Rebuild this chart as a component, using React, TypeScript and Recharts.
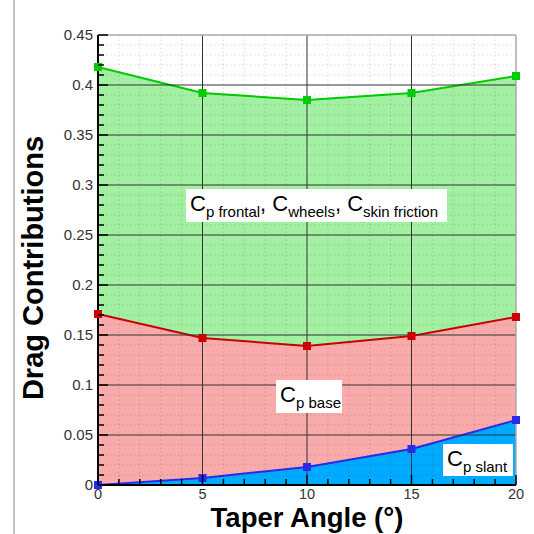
import React from 'react';
import { ComposedChart, Area, XAxis, YAxis, ReferenceLine, ReferenceDot } from 'recharts';

const angles = [0, 5, 10, 15, 20];
const frontalWheelsSkin = [0.418, 0.392, 0.385, 0.392, 0.409];
const baseDrag = [0.171, 0.147, 0.139, 0.149, 0.168];
const slantDrag = [0, 0.007, 0.018, 0.036, 0.065];

const majorYTicks = [0, 0.05, 0.1, 0.15, 0.2, 0.25, 0.3, 0.35, 0.4, 0.45];
const majorXTicks = [0, 5, 10, 15, 20];
const allYTicks = Array.from({ length: 46 }, (_, i) => +(i * 0.01).toFixed(2));
const allXTicks = Array.from({ length: 21 }, (_, i) => i);
const minorYLines = allYTicks.filter((v) => Math.round(v * 100) % 5 !== 0);
const minorXLines = allXTicks.filter((v) => v % 5 !== 0);
const innerMajorY = majorYTicks.slice(1, -1);
const innerMajorX = majorXTicks.slice(1, -1);

const data = angles.map((a, i) => ({
  angle: a,
  total: frontalWheelsSkin[i],
  base: baseDrag[i],
  slant: slantDrag[i],
}));

const FONT = '"Liberation Sans", Arial, Helvetica, sans-serif';

const fmt = (v: number) => String(+v.toFixed(2));

const YTick = (props: any) => {
  const { x, y, payload } = props;
  const v = payload.value as number;
  const major = Math.round(v * 100) % 5 === 0;
  return (
    <g>
      <line x1={x} x2={x + (major ? 10 : 6)} y1={y} y2={y} stroke="#000" strokeWidth={1.5} />
      {major && (
        <text x={x - 5} y={y + 5} textAnchor="end" fontSize={15} fill="#333" fontFamily={FONT}>
          {fmt(v)}
        </text>
      )}
    </g>
  );
};

const XTick = (props: any) => {
  const { x, y, payload } = props;
  const v = payload.value as number;
  const major = v % 5 === 0;
  return (
    <g>
      <line x1={x} x2={x} y1={y} y2={y - (major ? 10 : 6)} stroke="#000" strokeWidth={1.5} />
      {major && (
        <text x={x} y={y + 14} textAnchor="middle" fontSize={14.5} fill="#333" fontFamily={FONT}>
          {fmt(v)}
        </text>
      )}
    </g>
  );
};

const squareDot = (color: string) => (p: any) => (
  <rect key={`d-${color}-${p.index}`} x={p.cx - 4} y={p.cy - 4} width={8} height={8} fill={color} />
);

type Part = [string, string];

const makeBox = (w: number, h: number, parts: Part[]) => (p: any) => {
  const { cx, cy } = p;
  const kids: any[] = [];
  parts.forEach(([main, sub], i) => {
    kids.push(
      <tspan key={`m${i}`} fontSize={22} dy={i === 0 ? 0 : -6}>
        {main}
      </tspan>
    );
    kids.push(
      <tspan key={`s${i}`} fontSize={15} dy={6}>
        {sub}
      </tspan>
    );
  });
  return (
    <g>
      <rect x={cx} y={cy} width={w} height={h} fill="#fff" />
      <text x={cx + 4} y={cy + 22} fontFamily={FONT} fill="#000" fontSize={22}>
        {kids}
      </text>
    </g>
  );
};

export default function App() {
  return (
    <div style={{ position: 'fixed', left: 0, top: 0, width: 534, height: 534, background: '#fff' }}>
      <div style={{ position: 'absolute', left: 13, top: 0, width: 1.5, height: 534, background: '#c4c4c4' }} />
      <ComposedChart
        width={534}
        height={534}
        data={data}
        margin={{ top: 35, right: 18, left: 38, bottom: 19 }}
      >
        <Area
          type="linear"
          dataKey="total"
          stroke="#00cc00"
          strokeWidth={2}
          fill="#a2f0a2"
          fillOpacity={1}
          dot={squareDot('#00cc00')}
          activeDot={false}
          isAnimationActive={false}
        />
        <Area
          type="linear"
          dataKey="base"
          stroke="#cc0000"
          strokeWidth={2}
          fill="#f9aaaa"
          fillOpacity={1}
          dot={squareDot('#cc0000')}
          activeDot={false}
          isAnimationActive={false}
        />
        <Area
          type="linear"
          dataKey="slant"
          stroke="#2a2ae8"
          strokeWidth={2}
          fill="#00aaff"
          fillOpacity={1}
          dot={squareDot('#2a2ae8')}
          activeDot={false}
          isAnimationActive={false}
        />
        {minorYLines.map((v) => (
          <ReferenceLine key={`my${v}`} y={v} stroke="#000" strokeOpacity={0.14} strokeDasharray="1.5 2.5" />
        ))}
        {minorXLines.map((v) => (
          <ReferenceLine key={`mx${v}`} x={v} stroke="#000" strokeOpacity={0.14} strokeDasharray="1.5 2.5" />
        ))}
        {innerMajorY.map((v) => (
          <ReferenceLine key={`Y${v}`} y={v} stroke="#333" strokeWidth={1} />
        ))}
        {innerMajorX.map((v) => (
          <ReferenceLine key={`X${v}`} x={v} stroke="#333" strokeWidth={1} />
        ))}
        <ReferenceLine y={0.45} stroke="#aaa" strokeWidth={1.5} />
        <ReferenceLine x={20} stroke="#aaa" strokeWidth={1.5} />
        <XAxis
          dataKey="angle"
          type="number"
          domain={[0, 20]}
          ticks={allXTicks}
          interval={0}
          tickSize={0}
          tickMargin={0}
          tick={<XTick />}
          height={30}
          axisLine={{ stroke: '#000', strokeWidth: 2 }}
          tickLine={false}
          label={{
            content: (p: any) => {
              const vb = p.viewBox || { x: 98, width: 418, y: 485 };
              return (
                <text
                  x={vb.x + vb.width / 2}
                  y={527}
                  textAnchor="middle"
                  fontSize={27.5}
                  fontWeight="bold"
                  fontFamily={FONT}
                  fill="#000"
                >
                  Taper Angle (°)
                </text>
              );
            },
          }}
        />
        <YAxis
          type="number"
          domain={[0, 0.45]}
          ticks={allYTicks}
          interval={0}
          tickSize={0}
          tickMargin={0}
          tick={<YTick />}
          width={60}
          axisLine={{ stroke: '#000', strokeWidth: 2 }}
          tickLine={false}
          label={{
            content: () => (
              <text
                x={43}
                y={268}
                transform="rotate(-90, 43, 268)"
                textAnchor="middle"
                fontSize={29}
                fontWeight="bold"
                fontFamily={FONT}
                fill="#000"
              >
                Drag Contributions
              </text>
            ),
          }}
        />
        <ReferenceDot
          x={4.21}
          y={0.296}
          r={0}
          isFront
          shape={makeBox(261, 33, [
            ['C', 'p frontal'],
            [', C', 'wheels'],
            [', C', 'skin friction'],
          ])}
        />
        <ReferenceDot x={8.52} y={0.105} r={0} isFront shape={makeBox(66, 33, [['C', 'p base']])} />
        <ReferenceDot x={16.51} y={0.041} r={0} isFront shape={makeBox(70, 32, [['C', 'p slant']])} />
      </ComposedChart>
    </div>
  );
}
